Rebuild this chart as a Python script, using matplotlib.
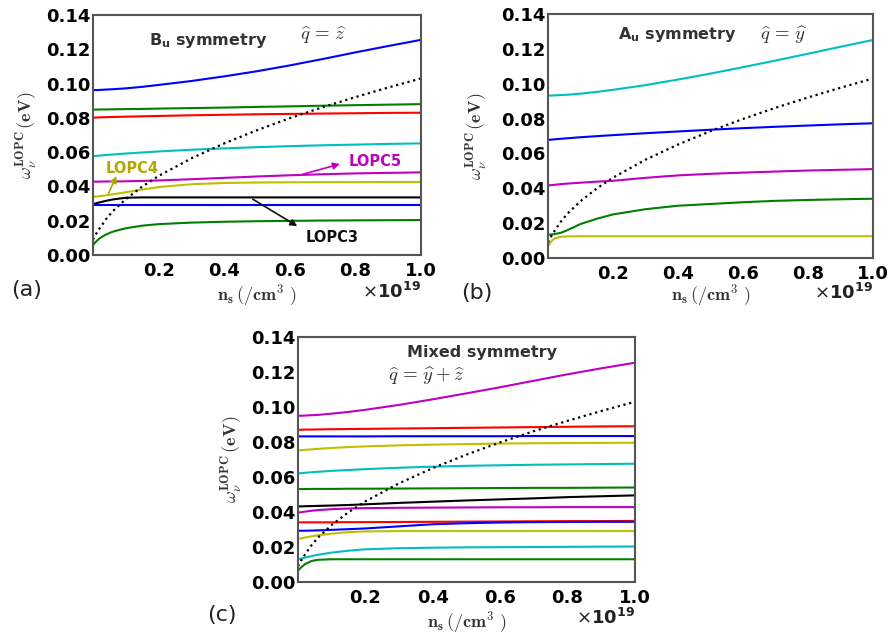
import matplotlib
matplotlib.use("Agg")
import matplotlib.pyplot as plt

# carrier density grid (units of 1e19 /cm^3)
X = [0, 0.01, 0.02, 0.04, 0.06, 0.1, 0.15, 0.2, 0.3, 0.4, 0.5, 0.6, 0.7, 0.8, 0.9, 1.0]

# plasma frequency (dotted), same in all panels
plasma = [0.0090, 0.0125, 0.0155, 0.0210, 0.0255, 0.0326, 0.0399, 0.0461, 0.0564,
          0.0651, 0.0728, 0.0798, 0.0862, 0.0921, 0.0977, 0.1030]

# (a) Bu symmetry, q = z
a_lines = [
    ('b', [0.0962, 0.0962, 0.0963, 0.0965, 0.0967, 0.0972, 0.0981, 0.0992, 0.1015, 0.1042,
           0.1072, 0.1106, 0.1143, 0.1182, 0.1219, 0.1255]),
    ('g', [0.0848, 0.0848, 0.0849, 0.0849, 0.0850, 0.0851, 0.0852, 0.0854, 0.0857, 0.0860,
           0.0864, 0.0867, 0.0871, 0.0874, 0.0877, 0.0880]),
    ('r', [0.0801, 0.0802, 0.0803, 0.0804, 0.0805, 0.0807, 0.0809, 0.0811, 0.0815, 0.0818,
           0.0821, 0.0823, 0.0825, 0.0827, 0.0829, 0.0830]),
    ('c', [0.0577, 0.0578, 0.0580, 0.0583, 0.0586, 0.0592, 0.0598, 0.0604, 0.0614, 0.0622,
           0.0629, 0.0635, 0.0640, 0.0644, 0.0648, 0.0651]),
    ('m', [0.0428, 0.0428, 0.0428, 0.0429, 0.0429, 0.0430, 0.0432, 0.0435, 0.0442, 0.0450,
           0.0458, 0.0465, 0.0471, 0.0476, 0.0479, 0.0482]),
    ('y', [0.0340, 0.0341, 0.0343, 0.0348, 0.0354, 0.0366, 0.0382, 0.0396, 0.0413, 0.0420,
           0.0423, 0.0424, 0.0425, 0.0425, 0.0426, 0.0426]),
    ('k', [0.0297, 0.0302, 0.0307, 0.0316, 0.0324, 0.0334, 0.0336, 0.0336, 0.0336, 0.0336,
           0.0336, 0.0336, 0.0336, 0.0336, 0.0336, 0.0336]),
    ('b', [0.0290, 0.0290, 0.0290, 0.0290, 0.0290, 0.0290, 0.0290, 0.0290, 0.0290, 0.0290,
           0.0290, 0.0290, 0.0290, 0.0290, 0.0290, 0.0290]),
    ('g', [0.0058, 0.0080, 0.0097, 0.0120, 0.0136, 0.0156, 0.0171, 0.0180, 0.0189, 0.0194,
           0.0197, 0.0199, 0.0201, 0.0202, 0.0203, 0.0204]),
]

# (b) Au symmetry, q = y
b_lines = [
    ('c', [0.0932, 0.0932, 0.0933, 0.0935, 0.0937, 0.0943, 0.0953, 0.0965, 0.0992, 0.1024,
           0.1058, 0.1095, 0.1133, 0.1172, 0.1212, 0.1251]),
    ('b', [0.0678, 0.0679, 0.0681, 0.0684, 0.0687, 0.0693, 0.0699, 0.0705, 0.0716, 0.0726,
           0.0736, 0.0745, 0.0753, 0.0760, 0.0767, 0.0773]),
    ('m', [0.0416, 0.0418, 0.0420, 0.0424, 0.0427, 0.0432, 0.0438, 0.0443, 0.0460, 0.0474,
           0.0483, 0.0490, 0.0496, 0.0502, 0.0506, 0.0510]),
    ('g', [0.0134, 0.0135, 0.0137, 0.0145, 0.0160, 0.0195, 0.0225, 0.0250, 0.0280, 0.0300,
           0.0310, 0.0320, 0.0328, 0.0333, 0.0337, 0.0340]),
    ('y', [0.0067, 0.0095, 0.0112, 0.0122, 0.0124, 0.0125, 0.0125, 0.0125, 0.0125, 0.0125,
           0.0125, 0.0125, 0.0125, 0.0125, 0.0125, 0.0125]),
]

# (c) mixed symmetry, q = y + z
c_lines = [
    ('m', [0.0950, 0.0950, 0.0951, 0.0953, 0.0955, 0.0962, 0.0972, 0.0984, 0.1012, 0.1044,
           0.1078, 0.1113, 0.1150, 0.1187, 0.1221, 0.1253]),
    ('r', [0.0870, 0.0870, 0.0871, 0.0871, 0.0872, 0.0873, 0.0874, 0.0875, 0.0877, 0.0879,
           0.0881, 0.0883, 0.0885, 0.0887, 0.0889, 0.0890]),
    ('b', [0.0832, 0.0832, 0.0832, 0.0832, 0.0832, 0.0832, 0.0832, 0.0832, 0.0833, 0.0833,
           0.0833, 0.0833, 0.0834, 0.0834, 0.0834, 0.0834]),
    ('y', [0.0752, 0.0753, 0.0755, 0.0758, 0.0761, 0.0766, 0.0771, 0.0775, 0.0781, 0.0785,
           0.0788, 0.0791, 0.0793, 0.0794, 0.0795, 0.0796]),
    ('c', [0.0621, 0.0622, 0.0624, 0.0627, 0.0630, 0.0635, 0.0640, 0.0645, 0.0653, 0.0659,
           0.0664, 0.0667, 0.0670, 0.0672, 0.0674, 0.0676]),
    ('g', [0.0531, 0.0531, 0.0531, 0.0532, 0.0532, 0.0532, 0.0533, 0.0533, 0.0534, 0.0535,
           0.0536, 0.0537, 0.0538, 0.0538, 0.0539, 0.0540]),
    ('k', [0.0432, 0.0432, 0.0433, 0.0434, 0.0435, 0.0437, 0.0440, 0.0444, 0.0452, 0.0459,
           0.0466, 0.0472, 0.0478, 0.0485, 0.0490, 0.0495]),
    ('m', [0.0396, 0.0399, 0.0402, 0.0407, 0.0411, 0.0416, 0.0420, 0.0422, 0.0424, 0.0425,
           0.0426, 0.0427, 0.0427, 0.0428, 0.0428, 0.0428]),
    ('r', [0.0341, 0.0341, 0.0341, 0.0341, 0.0341, 0.0341, 0.0342, 0.0342, 0.0343, 0.0344,
           0.0345, 0.0346, 0.0347, 0.0348, 0.0348, 0.0349]),
    ('b', [0.0293, 0.0293, 0.0293, 0.0294, 0.0295, 0.0298, 0.0302, 0.0306, 0.0318, 0.0330,
           0.0336, 0.0340, 0.0342, 0.0343, 0.0344, 0.0344]),
    ('y', [0.0246, 0.0250, 0.0254, 0.0261, 0.0267, 0.0276, 0.0285, 0.0289, 0.0291, 0.0291,
           0.0291, 0.0291, 0.0291, 0.0291, 0.0291, 0.0291]),
    ('c', [0.0130, 0.0134, 0.0139, 0.0148, 0.0156, 0.0168, 0.0179, 0.0187, 0.0193, 0.0196,
           0.0198, 0.0199, 0.0200, 0.0201, 0.0202, 0.0203]),
    ('g', [0.0065, 0.0085, 0.0101, 0.0120, 0.0127, 0.0130, 0.0130, 0.0130, 0.0130, 0.0130,
           0.0130, 0.0130, 0.0130, 0.0130, 0.0130, 0.0130]),
]

y_ticks = [0.00, 0.02, 0.04, 0.06, 0.08, 0.10, 0.12, 0.14]
y_ticklabels = ['0.00', '0.02', '0.04', '0.06', '0.08', '0.10', '0.12', '0.14']
x_ticks = [0.2, 0.4, 0.6, 0.8, 1.0]
x_ticklabels = ['0.2', '0.4', '0.6', '0.8', '1.0']

COLORS = {'b': '#0000ff', 'g': '#008000', 'r': '#ff0000', 'c': '#00bfbf',
          'm': '#bf00bf', 'y': '#bfbf00', 'k': '#000000'}
TXT = '#333333'

W, H = 891, 636
fig = plt.figure(figsize=(W / 100, H / 100), dpi=100)


def make_axes(left, top, right, bottom):
    # pixel box -> figure fraction
    return fig.add_axes([left / W, 1 - bottom / H, (right - left) / W, (bottom - top) / H])


def style_panel(ax, lines, letter, ylab_dx, xlab_dy, mult_dy, letter_xy):
    for c, ys in lines:
        ax.plot(X, ys, color=COLORS[c], lw=1.5)
    ax.plot(X, plasma, color='k', ls=':', lw=1.6)
    ax.set_xlim(0, 1.0)
    ax.set_ylim(0, 0.14)
    ax.set_xticks(x_ticks)
    ax.set_xticklabels(x_ticklabels)
    ax.set_yticks(y_ticks)
    ax.set_yticklabels(y_ticklabels)
    for lab in ax.get_xticklabels() + ax.get_yticklabels():
        lab.set_fontweight('bold')
        lab.set_fontsize(13)
    ax.tick_params(axis='both', length=0)
    ax.tick_params(axis='y', pad=2)
    ax.tick_params(axis='x', pad=5)
    for sp in ax.spines.values():
        sp.set_color('#555555')
        sp.set_linewidth(1.5)
    ax.text(ylab_dx, 0.5, r'$\omega_\nu^{\mathbf{LOPC}}\,\mathbf{(eV)}$', transform=ax.transAxes,
            rotation=90, ha='center', va='center', fontsize=13, color=TXT, math_fontfamily='cm')
    ax.text(0.5, xlab_dy, r'$\mathbf{n_s\,(/cm^3\ )}$', transform=ax.transAxes,
            ha='center', va='center', fontsize=13, color=TXT, math_fontfamily='cm')
    ax.text(1.0, mult_dy, r'$\times\mathbf{10^{19}}$', transform=ax.transAxes,
            ha='right', va='center', fontsize=13, color='#222222')
    fig.text(letter_xy[0] / W, 1 - letter_xy[1] / H, letter, fontsize=16, color='#222222',
             ha='left', va='center')


# (a)
ax_a = make_axes(93, 15, 421, 255)
style_panel(ax_a, a_lines, '(a)', -66 / 328, -0.167, -0.154, (11, 290))
ax_a.text(0.17, 0.1254, r'$\mathbf{B_u}$ symmetry', fontsize=11.5, fontweight='bold',
          color=TXT, va='center', ha='left')
ax_a.text(0.632, 0.128, r'$\widehat{q}\,=\,\widehat{z}$', fontsize=13.5, color=TXT,
          va='center', ha='left', math_fontfamily='cm')
ax_a.text(0.04, 0.0505, 'LOPC4', color='#b0a800', fontsize=10.5, fontweight='bold',
          va='center', ha='left')
ax_a.annotate('', xy=(0.075, 0.0476), xytext=(0.043, 0.034),
              arrowprops=dict(arrowstyle='-|>', color='#b0a800', lw=1.2, mutation_scale=10))
ax_a.text(0.78, 0.0548, 'LOPC5', color='#bf00bf', fontsize=10.5, fontweight='bold',
          va='center', ha='left')
ax_a.annotate('', xy=(0.761, 0.0535), xytext=(0.632, 0.0467),
              arrowprops=dict(arrowstyle='-|>', color='#bf00bf', lw=1.2, mutation_scale=10))
ax_a.text(0.647, 0.0103, 'LOPC3', color='#111111', fontsize=10.5, fontweight='bold',
          va='center', ha='left')
ax_a.annotate('', xy=(0.63, 0.016), xytext=(0.48, 0.0334),
              arrowprops=dict(arrowstyle='-|>', color='#111111', lw=1.2, mutation_scale=10))

# (b)
ax_b = make_axes(548, 14, 873, 258)
style_panel(ax_b, b_lines, '(b)', -71 / 325, -0.152, -0.143, (461, 293))
ax_b.text(0.215, 0.128, r'$\mathbf{A_u}$ symmetry', fontsize=11.5, fontweight='bold',
          color=TXT, va='center', ha='left')
ax_b.text(0.653, 0.128, r'$\widehat{q}\,=\,\widehat{y}$', fontsize=13.5, color=TXT,
          va='center', ha='left', math_fontfamily='cm')

# (c)
ax_c = make_axes(298, 337, 635, 582)
style_panel(ax_c, c_lines, '(c)', -66 / 337, -0.163, -0.147, (207, 615))
ax_c.text(0.545, 0.1314, 'Mixed symmetry', fontsize=11.5, fontweight='bold',
          color=TXT, va='center', ha='center')
ax_c.text(0.267, 0.1177, r'$\widehat{q}\,=\,\widehat{y}+\widehat{z}$', fontsize=13.5, color=TXT,
          va='center', ha='left', math_fontfamily='cm')

fig.savefig('out.png', dpi=100)
